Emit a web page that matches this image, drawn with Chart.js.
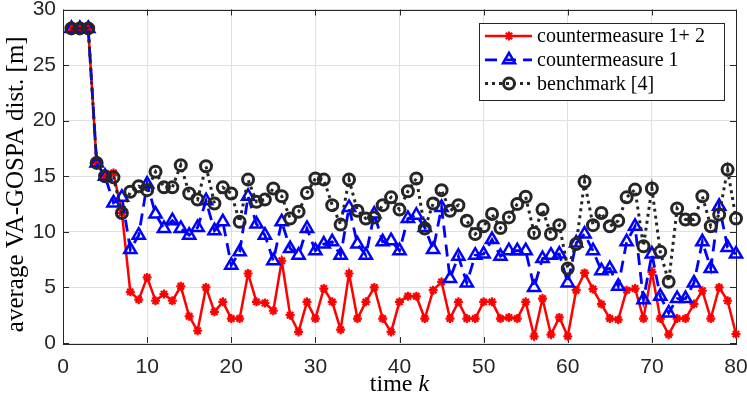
<!DOCTYPE html>
<html>
<head>
<meta charset="utf-8">
<script src="https://cdn.jsdelivr.net/npm/chart.js@4.4.1/dist/chart.umd.min.js"></script>
<style>
  html, body { margin: 0; padding: 0; background: #fff; }
  #chart { display: block; }
</style>
</head>
<body>
<canvas id="chart" width="747" height="397" style="width:747px;height:397px"></canvas>
<script>
// time steps k
const timeSteps = [
  1, 2, 3, 4, 5, 6, 7, 8, 9, 10, 11, 12, 13, 14, 15, 16, 17, 18, 19, 20,
  21, 22, 23, 24, 25, 26, 27, 28, 29, 30, 31, 32, 33, 34, 35, 36, 37, 38, 39, 40,
  41, 42, 43, 44, 45, 46, 47, 48, 49, 50, 51, 52, 53, 54, 55, 56, 57, 58, 59, 60,
  61, 62, 63, 64, 65, 66, 67, 68, 69, 70, 71, 72, 73, 74, 75, 76, 77, 78, 79, 80
];

const countermeasure12 = [
  28.3, 28.3, 28.3, 16.2, 15.0, 15.3, 11.7, 4.6, 3.9, 5.9,
  3.8, 4.4, 3.8, 5.1, 2.4, 1.1, 5.0, 2.8, 3.7, 2.2,
  2.2, 6.25, 3.7, 3.6, 2.9, 7.4, 2.5, 1.0, 3.7, 2.2,
  4.9, 3.7, 1.2, 6.25, 2.2, 3.7, 5.0, 2.2, 1.0, 3.7,
  4.2, 4.2, 2.2, 4.75, 5.5, 2.2, 3.7, 2.2, 2.2, 3.7,
  3.7, 2.2, 2.3, 2.2, 3.7, 0.6, 4.0, 0.75, 2.3, 0.6,
  4.75, 6.3, 4.85, 3.5, 2.2, 2.1, 4.75, 4.9, 2.2, 6.4,
  2.2, 0.75, 2.2, 2.2, 3.5, 4.7, 2.2, 5.0, 3.8, 0.8
];

const countermeasure1 = [
  28.3, 28.3, 28.3, 16.2, 15.0, 12.6, 13.1, 8.4, 9.7, 14.3,
  11.6, 10.3, 11.0, 10.3, 9.7, 10.4, 12.8, 10.1, 10.9, 7.0,
  8.2, 13.2, 10.7, 9.7, 7.4, 10.9, 8.5, 7.9, 10.3, 8.3,
  8.9, 9.1, 7.9, 12.2, 8.9, 7.9, 11.6, 9.1, 9.2, 8.3,
  11.2, 11.5, 10.4, 8.4, 12.2, 5.8, 7.8, 5.4, 7.9, 8.0,
  9.3, 7.8, 8.3, 8.3, 8.3, 5.0, 7.6, 7.9, 8.0, 5.4,
  9.0, 9.8, 8.3, 6.5, 6.7, 5.1, 9.1, 10.5, 3.9, 8.0,
  4.2, 2.7, 4.0, 4.0, 5.4, 9.1, 6.7, 12.3, 8.6, 8.0
];

const benchmark = [
  28.3, 28.3, 28.3, 16.2, 15.0, 14.9, 11.7, 13.6, 14.1, 13.75,
  15.4, 14.0, 14.0, 16.0, 13.45, 12.9, 15.9, 12.55, 14.0, 13.45,
  10.9, 14.7, 12.7, 12.9, 13.9, 13.2, 11.2, 11.8, 13.5, 14.8,
  14.7, 12.4, 10.65, 14.7, 11.9, 11.2, 11.3, 12.4, 13.1, 12.0,
  13.65, 14.8, 10.3, 12.55, 13.75, 11.9, 12.4, 11.0, 9.8, 10.5,
  11.6, 10.35, 11.3, 12.5, 13.15, 9.9, 12.0, 9.8, 10.6, 6.7,
  8.9, 14.5, 10.6, 11.7, 10.5, 11.0, 13.1, 13.8, 8.7, 13.9,
  8.2, 5.5, 12.1, 11.1, 11.1, 13.2, 10.5, 11.55, 15.6, 11.2
];

const seriesLabels = ['countermeasure 1+ 2', 'countermeasure 1', 'benchmark [4]'];
const xTitleParts = ['time ', 'k'];
const yTitle = 'average VA-GOSPA dist. [m]';

const axisColor = '#262626';
const tickFont = { family: "'Liberation Sans Narrow', 'Liberation Sans', sans-serif", size: 21 };
const serif = '"Liberation Serif", "DejaVu Serif", serif';

function toPoints(values) {
  return values.map((v, i) => ({ x: timeSteps[i], y: v }));
}

// matlab style box with inward ticks
const axesBox = {
  id: 'axesBox',
  beforeDatasetsDraw(chart) {
    const { ctx, chartArea: a, scales } = chart;
    const len = 6;
    ctx.save();
    ctx.strokeStyle = axisColor;
    ctx.lineWidth = 1;
    ctx.strokeRect(Math.round(a.left) + 0.5, Math.round(a.top) + 0.5,
      Math.round(a.right - a.left), Math.round(a.bottom - a.top));
    ctx.beginPath();
    scales.x.ticks.forEach(t => {
      const px = Math.round(scales.x.getPixelForValue(t.value)) + 0.5;
      ctx.moveTo(px, a.bottom); ctx.lineTo(px, a.bottom - len);
      ctx.moveTo(px, a.top); ctx.lineTo(px, a.top + len);
    });
    scales.y.ticks.forEach(t => {
      const py = Math.round(scales.y.getPixelForValue(t.value)) + 0.5;
      ctx.moveTo(a.left, py); ctx.lineTo(a.left + len, py);
      ctx.moveTo(a.right, py); ctx.lineTo(a.right - len, py);
    });
    ctx.stroke();
    ctx.restore();
  }
};

const axisTitles = {
  id: 'axisTitles',
  afterDraw(chart) {
    const { ctx, chartArea: a } = chart;
    ctx.save();
    ctx.fillStyle = '#000';
    ctx.textBaseline = 'alphabetic';
    ctx.textAlign = 'left';
    const reg = '24px ' + serif;
    const ital = 'italic 24px ' + serif;
    ctx.font = reg;
    const w1 = ctx.measureText(xTitleParts[0]).width;
    ctx.font = ital;
    const w2 = ctx.measureText(xTitleParts[1]).width;
    let x = (a.left + a.right) / 2 - (w1 + w2) / 2;
    const y = 391;
    ctx.font = reg;
    ctx.fillText(xTitleParts[0], x, y);
    ctx.font = ital;
    ctx.fillText(xTitleParts[1], x + w1, y);

    ctx.translate(16, (a.top + a.bottom) / 2 + 8);
    ctx.rotate(-Math.PI / 2);
    ctx.textAlign = 'center';
    ctx.textBaseline = 'middle';
    ctx.font = '25px ' + serif;
    ctx.fillText(yTitle, 0, 0);
    ctx.restore();
  }
};

const legendBox = {
  id: 'legendBox',
  afterDraw(chart) {
    const { ctx, chartArea: a } = chart;
    const w = 245, h = 77;
    const left = Math.round(a.right - 12 - w), top = Math.round(a.top + 13);
    ctx.save();
    ctx.fillStyle = '#fff';
    ctx.fillRect(left, top, w, h);
    ctx.strokeStyle = axisColor;
    ctx.lineWidth = 1;
    ctx.strokeRect(left + 0.5, top + 0.5, w, h);
    chart.data.datasets.forEach((ds, i) => {
      const y = top + 13 + i * 23.8;
      ctx.strokeStyle = ds.borderColor;
      ctx.lineWidth = ds.borderWidth;
      ctx.setLineDash(ds.borderDash || []);
      ctx.beginPath();
      ctx.moveTo(left + 6, y);
      ctx.lineTo(left + 53, y);
      ctx.stroke();
      ctx.setLineDash([]);
      ctx.fillStyle = 'rgba(0,0,0,0)';
      ctx.lineWidth = ds.pointBorderWidth;
      Chart.helpers.drawPoint(ctx, {
        pointStyle: ds.pointStyle, radius: ds.pointRadius,
        borderWidth: ds.pointBorderWidth, rotation: 0
      }, left + 30, y);
      ctx.fillStyle = '#000';
      ctx.font = '20px ' + serif;
      ctx.textBaseline = 'middle';
      ctx.fillText(ds.label, left + 58, y + 1);
    });
    ctx.restore();
  }
};

new Chart(document.getElementById('chart'), {
  type: 'line',
  data: {
    datasets: [
      {
        label: seriesLabels[0],
        data: toPoints(countermeasure12),
        borderColor: '#ff0000',
        backgroundColor: 'transparent',
        borderWidth: 2.5,
        pointStyle: 'star',
        pointRadius: 4.5,
        pointBorderWidth: 2.2,
        pointBorderColor: '#ff0000',
        pointBackgroundColor: 'transparent',
        order: 3
      },
      {
        label: seriesLabels[1],
        data: toPoints(countermeasure1),
        borderColor: '#0000ff',
        backgroundColor: 'transparent',
        borderWidth: 2.8,
        borderDash: [12, 7],
        pointStyle: 'triangle',
        pointRadius: 7,
        pointBorderWidth: 2.5,
        pointBorderColor: '#0000ff',
        pointBackgroundColor: 'transparent',
        order: 2
      },
      {
        label: seriesLabels[2],
        data: toPoints(benchmark),
        borderColor: axisColor,
        backgroundColor: 'transparent',
        borderWidth: 3,
        borderDash: [3, 4],
        pointStyle: 'circle',
        pointRadius: 5.5,
        pointBorderWidth: 3,
        pointBorderColor: axisColor,
        pointBackgroundColor: 'transparent',
        order: 1
      }
    ]
  },
  options: {
    responsive: false,
    animation: false,
    devicePixelRatio: 1,
    clip: 10,
    layout: { padding: 0 },
    plugins: { legend: { display: false }, tooltip: { enabled: false } },
    scales: {
      x: {
        type: 'linear', min: 0, max: 80,
        ticks: { stepSize: 10, font: tickFont, color: axisColor, padding: 12 },
        grid: { color: '#e0e0e0', drawTicks: false },
        border: { display: false },
        afterFit: s => { s.height = 54; s.paddingLeft = 0; s.paddingRight = 11; }
      },
      y: {
        min: 0, max: 30,
        ticks: { stepSize: 5, font: tickFont, color: axisColor, padding: 7 },
        grid: { color: '#e0e0e0', drawTicks: false },
        border: { display: false },
        afterFit: s => { s.width = 63; s.paddingTop = 7; s.paddingBottom = 0; }
      }
    }
  },
  plugins: [axesBox, legendBox, axisTitles]
});
</script>
</body>
</html>
